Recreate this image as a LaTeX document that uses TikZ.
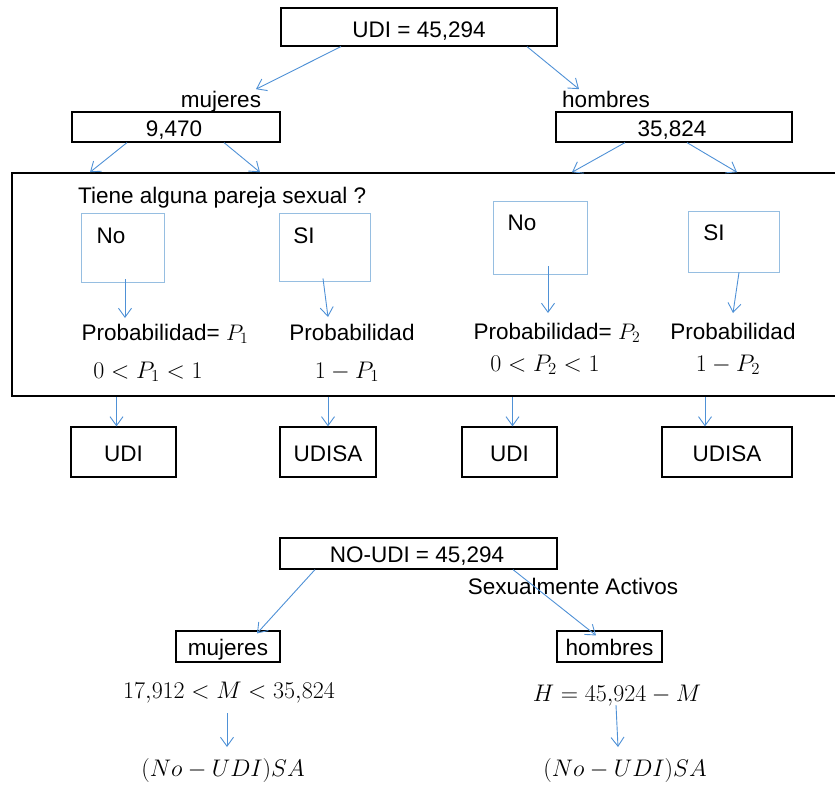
\RequirePackage{fix-cm}
\documentclass[tikz,border=0pt]{standalone}
\usepackage[no-math]{fontspec}
\setmainfont{Liberation Sans}
\usetikzlibrary{arrows.meta,calc}
\definecolor{arrowblue}{RGB}{79,145,214}
\definecolor{boxblue}{RGB}{150,190,225}
\begin{document}
\begin{tikzpicture}[x=1pt,y=-1pt,
  font=\fontsize{22.5}{27}\selectfont,
  blackbox/.style={draw=black, line width=1.2pt, inner sep=0pt},
  lbox/.style={draw=boxblue, line width=0.9pt, inner sep=0pt},
  txt/.style={inner sep=0pt, text height=21.7pt, text depth=5.6pt},
  mth/.style={inner sep=0pt, text height=22.5pt, text depth=5.9pt, font=\fontsize{24}{28}\selectfont},
  arr/.style={draw=arrowblue, line width=0.9pt, -{Straight Barb[length=9pt,width=13pt]}}]
\useasboundingbox (0,0) rectangle (835,785);
% --- top tree ---
\node[blackbox, minimum width=276pt, minimum height=38pt] (udi) at (419,27) {};
\node[txt] (udit) at (419,29) {UDI = 45,294};
\node[txt] (mujL) at (221,99) {mujeres};
\node[txt] (homL) at (606,99) {hombres};
\node[blackbox, minimum width=208pt, minimum height=30pt] (m9470) at (176,127) {};
\node[txt] at (174,128) {9,470};
\node[blackbox, minimum width=236pt, minimum height=30pt] (h35824) at (674,127) {};
\node[txt] at (672,128) {35,824};
\draw[arr] ([xshift=-78pt]udi.south) -- ([xshift=35pt,yshift=-4pt]mujL.north);
\draw[arr] ([xshift=108pt]udi.south) -- ([xshift=-27pt,yshift=-4pt]homL.north);
% --- big box ---
\node[draw=black, line width=1.5pt, minimum width=830pt, minimum height=223pt, inner sep=0pt] (big) at (427,284.5) {};
\draw[arr] ([xshift=-49pt]m9470.south) -- ([xshift=-86pt]m9470.south |- big.north);
\draw[arr] ([xshift=48pt]m9470.south) -- ([xshift=84pt]m9470.south |- big.north);
\draw[arr] ([xshift=-49pt]h35824.south) -- ([xshift=-102pt]h35824.south |- big.north);
\draw[arr] ([xshift=13pt]h35824.south) -- ([xshift=63pt]h35824.south |- big.north);
\node[txt, anchor=west] (tiene) at (78,195) {Tiene alguna pareja sexual ?};
% small boxes
\node[lbox, minimum width=83pt, minimum height=69pt] (no1) at (122.5,247.5) {};
\node[txt] at (111,235) {No};
\node[lbox, minimum width=91pt, minimum height=68pt] (si1) at (324.5,247) {};
\node[txt] at (304,235) {SI};
\node[lbox, minimum width=94pt, minimum height=73pt] (no2) at (540,237.5) {};
\node[txt] at (522,222) {No};
\node[lbox, minimum width=91pt, minimum height=61pt] (si2) at (733.5,241.5) {};
\node[txt] at (714,232) {SI};
% probability texts
\node[txt] (p1) at (165,332) {Probabilidad= $P_1$};
\node[mth] (q1) at (148,370) {$0<P_1<1$};
\node[txt] (p2) at (352,332) {Probabilidad};
\node[mth] (q2) at (347,370) {$1-P_1$};
\node[txt] (p3) at (557,331) {Probabilidad= $P_2$};
\node[mth] (q3) at (545,363) {$0<P_2<1$};
\node[txt] (p4) at (733,331) {Probabilidad};
\node[mth] (q4) at (728,363) {$1-P_2$};
\draw[arr] ([xshift=2.5pt,yshift=3pt]no1.south) -- ([xshift=2.5pt]no1.south |- 0,318);
\draw[arr] ([xshift=-1.5pt,yshift=3pt]si1.south) -- ([xshift=3.5pt]si1.south |- 0,317);
\draw[arr] ([xshift=8pt,yshift=8pt]no2.south) -- ([xshift=8pt]no2.south |- 0,313);
\draw[arr] ([xshift=5.5pt]si2.south) -- ([xshift=-0.5pt]si2.south |- 0,313);
% result boxes
\node[blackbox, minimum width=105pt, minimum height=50pt] (r1) at (123.5,452) {};
\node[txt] at (123.5,453) {UDI};
\node[blackbox, minimum width=96pt, minimum height=50pt] (r2) at (328,452) {};
\node[txt] at (328,453) {UDISA};
\node[blackbox, minimum width=95pt, minimum height=50pt] (r3) at (509.5,452) {};
\node[txt] at (509.5,453) {UDI};
\node[blackbox, minimum width=130pt, minimum height=50pt] (r4) at (727,452) {};
\node[txt] at (727,453) {UDISA};
\draw[arr] ([xshift=-7pt]r1.north |- big.south) -- ([xshift=-7pt]r1.north);
\draw[arr] (r2.north |- big.south) -- (r2.north);
\draw[arr] ([xshift=3pt]r3.north |- big.south) -- ([xshift=3pt]r3.north);
\draw[arr] ([xshift=-22pt]r4.north |- big.south) -- ([xshift=-22pt]r4.north);
% --- bottom tree ---
\node[blackbox, minimum width=277pt, minimum height=31pt] (noudi) at (418.5,553.5) {};
\node[txt] at (417,554) {NO-UDI = 45,294};
\node[txt] (sa) at (573,586) {Sexualmente Activos};
\node[blackbox, minimum width=104pt, minimum height=31pt] (mB) at (228,646.5) {};
\node[txt] at (228,647) {mujeres};
\node[blackbox, minimum width=105pt, minimum height=31pt] (hB) at (609.5,646.5) {};
\node[txt] at (609.5,647) {hombres};
\draw[arr] ([xshift=-103.5pt]noudi.south) -- ([xshift=29pt,yshift=-3pt]mB.north);
\draw[arr] ([xshift=94.5pt]noudi.south) -- ([xshift=-13.5pt,yshift=-5pt]hB.north);
\node[mth] (ineqM) at (229,690) {$17{,}912<M<35{,}824$};
\node[mth] (eqH) at (617,693) {$H=45{,}924-M$};
\node[mth] (saM) at (223,768) {$(No-UDI)SA$};
\node[mth] (saH) at (625,768) {$(No-UDI)SA$};
\draw[arr] ([xshift=-2pt]ineqM.south |- 0,713) -- ([xshift=-2pt]ineqM.south |- 0,747);
\draw[arr] ([xshift=-1pt]eqH.south |- 0,705) -- ([xshift=1pt]eqH.south |- 0,747);
\end{tikzpicture}
\end{document}
